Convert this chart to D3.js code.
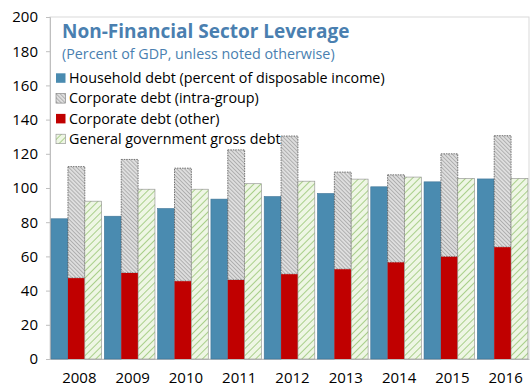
<!DOCTYPE html>
<html>
<head>
<meta charset="utf-8">
<script src="https://cdn.jsdelivr.net/npm/d3@7"></script>
<style>
  body { margin: 0; background: #fff; }
  text { font-family: "Open Sans", "Noto Sans", sans-serif; }
</style>
</head>
<body>
<div id="chart"></div>
<script>
// values
var years = ["2008", "2009", "2010", "2011", "2012", "2013", "2014", "2015", "2016"];
var household = [82, 83.5, 88, 93.5, 95, 96.8, 100.7, 103.6, 105.3];
var corpTotal = [112.5, 116.7, 111.6, 122.3, 130.4, 109.3, 107.7, 120, 130.6];
var corpOther = [47.3, 50.3, 45.5, 46.2, 49.6, 52.5, 56.5, 59.8, 65.4];
var govDebt = [92.3, 99.3, 99.3, 102.5, 104, 105.2, 106.4, 105.6, 105.6];
var yTicks = [0, 20, 40, 60, 80, 100, 120, 140, 160, 180, 200];

var legendLabels = [
  "Household debt (percent of disposable income)",
  "Corporate debt (intra-group)",
  "Corporate debt (other)",
  "General government gross debt"
];

var width = 530, height = 388;
var plotLeft = 50, plotRight = 529, plotTop = 17, plotBottom = 359;

var svg = d3.select("#chart").append("svg")
  .attr("width", width)
  .attr("height", height);

var defs = svg.append("defs");

// hatch for intra-group corporate debt (\\\)
var pg = defs.append("pattern")
  .attr("id", "grayHatch")
  .attr("patternUnits", "userSpaceOnUse")
  .attr("width", 2.8).attr("height", 2.8)
  .attr("patternTransform", "rotate(-45)");
pg.append("rect").attr("width", 2.8).attr("height", 2.8).attr("fill", "#dedede");
pg.append("line").attr("x1", 0).attr("y1", 0).attr("x2", 0).attr("y2", 2.8)
  .attr("stroke", "#8c8c8c").attr("stroke-width", 1.1);

// stripes for government debt (///)
var pgr = defs.append("pattern")
  .attr("id", "greenHatch")
  .attr("patternUnits", "userSpaceOnUse")
  .attr("width", 5).attr("height", 5)
  .attr("patternTransform", "rotate(45)");
pgr.append("rect").attr("width", 5).attr("height", 5).attr("fill", "#eef6e4");
pgr.append("line").attr("x1", 0).attr("y1", 0).attr("x2", 0).attr("y2", 5)
  .attr("stroke", "#a9cf8a").attr("stroke-width", 2);

var x = d3.scaleBand().domain(years).range([plotLeft, plotRight]).paddingInner(0.05).paddingOuter(0.02);
var sub = d3.scaleBand().domain([0, 1, 2]).range([0, x.bandwidth()]);
var y = d3.scaleLinear().domain([0, 200]).range([plotBottom, plotTop]);

// plot frame
svg.append("rect")
  .attr("x", plotLeft).attr("y", plotTop)
  .attr("width", plotRight - plotLeft).attr("height", plotBottom - plotTop)
  .attr("fill", "none").attr("stroke", "#d9d9d9").attr("stroke-width", 1);

// y axis
var yAxis = svg.append("g")
  .attr("transform", "translate(" + plotLeft + ",0)")
  .call(d3.axisLeft(y).tickValues(yTicks).tickSize(4).tickPadding(8));
yAxis.select(".domain").attr("stroke", "#bfbfbf");
yAxis.selectAll(".tick line").attr("stroke", "#bfbfbf");
yAxis.selectAll(".tick text").attr("font-size", 15).attr("fill", "#000");

// x labels
var xAxis = svg.append("g")
  .attr("transform", "translate(0," + plotBottom + ")")
  .call(d3.axisBottom(x).tickSize(0).tickPadding(13));
xAxis.select(".domain").attr("stroke", "#bfbfbf");
xAxis.selectAll(".tick text").attr("font-size", 15).attr("fill", "#000")
  .attr("dx", 3);

var groups = svg.selectAll(".grp")
  .data(years)
  .enter().append("g")
  .attr("class", "grp")
  .attr("transform", function(d) { return "translate(" + x(d) + ",0)"; });

groups.append("rect")
  .attr("x", sub(0)).attr("width", sub.bandwidth())
  .attr("y", function(d, i) { return y(household[i]); })
  .attr("height", function(d, i) { return plotBottom - y(household[i]); })
  .attr("fill", "#4a8bb0").attr("stroke", "#3f7496").attr("stroke-width", 0.6);

groups.append("rect")
  .attr("x", sub(1)).attr("width", sub.bandwidth())
  .attr("y", function(d, i) { return y(corpTotal[i]); })
  .attr("height", function(d, i) { return y(corpOther[i]) - y(corpTotal[i]); })
  .attr("fill", "url(#grayHatch)").attr("stroke", "#555").attr("stroke-width", 0.8)
  .attr("stroke-dasharray", "1.5,1");

groups.append("rect")
  .attr("x", sub(1)).attr("width", sub.bandwidth())
  .attr("y", function(d, i) { return y(corpOther[i]); })
  .attr("height", function(d, i) { return plotBottom - y(corpOther[i]); })
  .attr("fill", "#c00000");

groups.append("rect")
  .attr("x", sub(2)).attr("width", sub.bandwidth())
  .attr("y", function(d, i) { return y(govDebt[i]); })
  .attr("height", function(d, i) { return plotBottom - y(govDebt[i]); })
  .attr("fill", "url(#greenHatch)").attr("stroke", "#8c8c8c").attr("stroke-width", 0.6);

// title block
svg.append("text")
  .attr("x", 62).attr("y", 38)
  .attr("font-size", 19).attr("font-weight", "bold")
  .attr("fill", "#4a7fb0")
  .text("Non-Financial Sector Leverage");
svg.append("text")
  .attr("x", 62).attr("y", 59)
  .attr("font-size", 14.3)
  .attr("fill", "#4a7fb0")
  .text("(Percent of GDP, unless noted otherwise)");

// legend
var legFills = ["#4a8bb0", "url(#grayHatch)", "#c00000", "url(#greenHatch)"];
var legStrokes = ["none", "#777", "none", "#8c8c8c"];
var leg = svg.selectAll(".leg")
  .data(legendLabels)
  .enter().append("g")
  .attr("class", "leg")
  .attr("transform", function(d, i) { return "translate(56," + (78 + i * 20.3) + ")"; });
leg.append("rect")
  .attr("x", 0).attr("y", -4.7).attr("width", 9.5).attr("height", 9.5)
  .attr("fill", function(d, i) { return legFills[i]; })
  .attr("stroke", function(d, i) { return legStrokes[i]; })
  .attr("stroke-width", 0.6);
leg.append("text")
  .attr("x", 13).attr("y", 5)
  .attr("font-size", 14.3).attr("fill", "#000")
  .text(function(d) { return d; });
</script>
</body>
</html>
